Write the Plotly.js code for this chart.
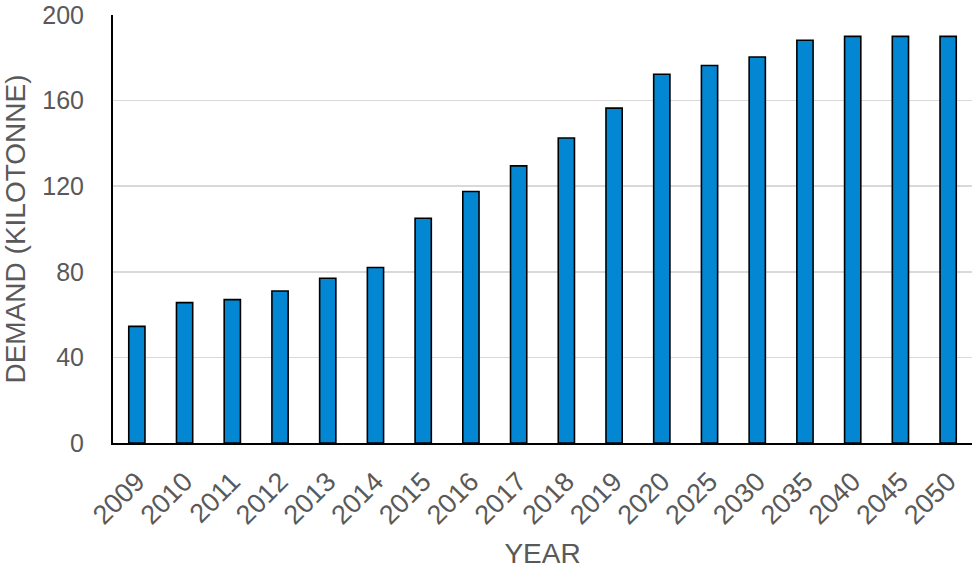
<!DOCTYPE html>
<html>
<head>
<meta charset="utf-8">
<script src="https://cdn.plot.ly/plotly-3.0.1.min.js"></script>
<style>html,body{margin:0;padding:0;background:#fff;}#chart{width:977px;height:569px;}</style>
</head>
<body>
<div id="chart"></div>
<script>
const years = ["2009","2010","2011","2012","2013","2014","2015","2016","2017","2018","2019","2020","2025","2030","2035","2040","2045","2050"];
const demand = [54.5, 65.6, 67, 71, 77, 82, 105, 117.5, 129.5, 142.5, 156.5, 172.3, 176.4, 180.4, 188.2, 190, 190, 190];
const yTicks = [0, 40, 80, 120, 160, 200];

const trace = {
  type: 'bar',
  x: years,
  y: demand,
  marker: {color: '#0487d2', line: {color: '#000', width: 1.6}},
  hoverinfo: 'x+y'
};

const layout = {
  width: 977, height: 569,
  margin: {l: 113, r: 5, t: 15, b: 126},
  paper_bgcolor: '#fff', plot_bgcolor: '#fff',
  bargap: 0.66,
  showlegend: false,
  font: {family: 'Liberation Sans, Arial, sans-serif', color: '#595959'},
  xaxis: {
    type: 'category',
    tickangle: -45,
    tickfont: {size: 27, color: '#595959'},
    ticklabelstandoff: 10,
    showline: true, linecolor: '#000', linewidth: 2,
    showgrid: false, ticks: '',
    title: {text: 'YEAR', font: {size: 28, color: '#595959'}, standoff: 16},
    automargin: false
  },
  yaxis: {
    range: [0, 200],
    tickvals: yTicks,
    tickfont: {size: 25, color: '#595959'},
    ticklabelstandoff: 22,
    showline: true, linecolor: '#000', linewidth: 2,
    showgrid: true, gridcolor: '#d9d9d9', gridwidth: 1.5,
    zeroline: false, ticks: '',
    title: {text: 'DEMAND (KILOTONNE)', font: {size: 28, color: '#595959'}, standoff: 12},
    automargin: false
  }
};

Plotly.newPlot('chart', [trace], layout, {displayModeBar: false, staticPlot: true});
</script>
</body>
</html>
